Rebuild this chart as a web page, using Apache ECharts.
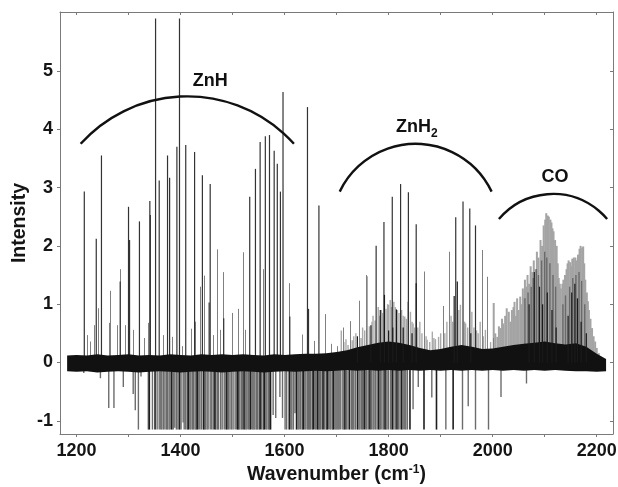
<!DOCTYPE html>
<html><head><meta charset="utf-8">
<script src="https://cdn.jsdelivr.net/npm/echarts@6/dist/echarts.min.js"></script>
<style>html,body{margin:0;padding:0;background:#fff}#c{width:618px;height:487px}</style>
</head><body><div id="c"></div>
<script>
// ---- axis ticks / labels ----
const xTickValues = [1200,1300,1400,1500,1600,1700,1800,1900,2000,2100,2200];
const xLabelValues = [1200,1400,1600,1800,2000,2200];
const yTickValues = [-1,0,1,2,3,4,5];

// ---- strong (dark) lines ----
const mainSticks = [[1215,2.93],[1238,2.12],[1248,3.55],[1284,1.39],[1300,2.67],[1302,2.1],[1321,2.42],[1341,2.77],[1342,2.53],[1352,5.9],[1359,3.12],[1375,3.55],[1379,3.17],[1393,3.70],[1398,5.9],[1410,3.73],[1427,3.61],[1442,3.21],[1455,1.03],[1457,3.06],[1483,0.76],[1533,2.84],[1544,3.32],[1553,3.78],[1563,3.88],[1571,3.90],[1580,3.63],[1586,3.41],[1592,2.93],[1597,4.64],[1610,0.79],[1644,4.38],[1646,0.92],[1666,2.69],[1776,2.0],[1791,2.41],[1807,2.84],[1823,3.06],[1838,2.92],[1853,2.37],[1929,2.49],[1943,2.76],[1956,2.64],[1967,2.35]];

// ---- medium grey lines ----
const greySticks = [[1220,0.47],[1226,0.36],[1233,0.64],[1242,0.93],[1262,0.68],[1264,1.23],[1277,0.64],[1283,1.6],[1293,0.64],[1309,0.56],[1330,0.42],[1337,0.68],[1366,0.47],[1384,0.44],[1402,0.28],[1421,0.58],[1428,0.7],[1437,1.30],[1446,1.49],[1463,0.47],[1470,1.94],[1476,0.56],[1481,1.55],[1499,0.85],[1510,0.92],[1521,1.89],[1523,0.56],[1559,1.6],[1608,1.36],[1634,0.48],[1656,0.37],[1677,0.83],[1689,0.32],[1700,0.28],[1713,0.6],[1725,0.71],[1743,1.06],[1757,1.5],[1868,1.56],[1904,0.97],[1916,1.9],[1979,1.93],[1990,1.47],[2001,0.42]];

// ---- light grey dense lines in the ZnH2 region ----
const lightSticks = [[1709,0.55],[1714,0.35],[1718,0.4],[1722,0.3],[1730,0.38],[1733,0.45],[1737,0.5],[1747,0.42],[1750,0.6],[1754,0.55],[1759,1.48],[1763,0.62],[1768,0.7],[1770,0.8],[1774,0.72],[1780,0.95],[1783,0.8],[1786,0.9],[1788,0.85],[1795,0.92],[1798,1.0],[1800,0.99],[1803,1.07],[1806,0.95],[1810,1.04],[1813,0.95],[1817,0.9],[1820,0.85],[1825,0.9],[1828,0.8],[1831,0.79],[1834,0.75],[1837,1.04],[1842,0.87],[1845,0.7],[1847,0.67],[1850,0.6],[1856,0.6],[1860,0.7],[1864,0.5],[1872,0.45],[1874,0.39],[1879,0.35],[1884,0.53],[1887,0.42],[1890,0.4],[1896,0.44],[1900,0.5],[1908,0.5],[1912,0.7],[1920,0.8],[1923,0.7],[1935,0.9],[1938,0.99],[1946,0.7],[1948,0.67],[1952,0.6],[1960,0.87],[1964,0.6],[1969,0.55],[1972,0.5],[1976,0.7],[1982,0.45],[1986,0.56],[1996,0.35]];

// ---- CO band lines ----
const coSticks = [[2002,1.02],[2005,0.5],[2009,0.44],[2012,0.62],[2015,0.59],[2018,0.75],[2020,0.67],[2024,0.8],[2027,0.93],[2031,0.87],[2034,0.7],[2037,0.9],[2040,0.95],[2042,1.04],[2045,0.8],[2047,1.1],[2050,0.9],[2053,1.13],[2056,1.0],[2058,1.27],[2060,1.1],[2062,1.42],[2065,1.3],[2067,1.5],[2070,1.35],[2073,1.65],[2076,1.55],[2079,1.75],[2082,1.6],[2085,1.9],[2088,1.8],[2092,2.1],[2095,2.0],[2098,2.35],[2101,2.45],[2103,2.56],[2106,2.52],[2108,2.5],[2111,2.45],[2113,2.4],[2115,2.3],[2117,2.25],[2120,2.1],[2123,2.0],[2125,1.7],[2127,1.45],[2129,1.35],[2131,1.27],[2134,1.35],[2136,1.42],[2139,1.5],[2142,1.6],[2144,1.7],[2146,1.75],[2149,1.72],[2151,1.65],[2153,1.78],[2156,1.8],[2159,1.8],[2162,1.75],[2164,1.85],[2167,1.95],[2169,2.0],[2172,1.97],[2174,1.99],[2176,1.7],[2178,1.42],[2181,1.2],[2183,1.05],[2185,0.9],[2188,0.75],[2191,0.59],[2194,0.45],[2197,0.36],[2200,0.25],[2204,0.16],[2208,0.1]];

// ---- darker grey lines inside the CO envelope ----
const coMid = [[2062,1.1],[2068,1.2],[2074,1.3],[2078,1.45],[2084,1.6],[2088,1.5],[2094,1.75],[2100,1.9],[2104,1.8],[2110,1.7],[2116,1.5],[2121,1.3],[2135,1.0],[2140,1.15],[2148,1.3],[2154,1.45],[2160,1.5],[2166,1.55],[2171,1.4],[2177,1.0]];

// ---- short black lines inside the ZnH2 / CO envelopes ----
const darkSticks = [[1740,0.45],[1766,0.64],[1784,0.9],[1792,1.16],[1800,0.55],[1808,0.6],[1815,0.91],[1828,0.6],[1845,0.5],[1853,1.36],[1926,1.14],[1932,1.39],[1958,0.5],[2070,1.0],[2080,1.55],[2090,1.3],[2096,1.0],[2105,1.2],[2114,0.9],[2122,0.6],[2145,0.8],[2152,1.2],[2158,1.35],[2163,1.1],[2170,0.7],[2180,0.5]];

// ---- negative lines ----
const negDark = [[1340,-1.15],[1351,-1.15],[1398,-1.15],[1415,-1.15],[1444,-1.15],[1466,-1.15],[1489,-1.15],[1510,-1.15],[1534,-1.15],[1553,-1.15],[1573,-1.15],[1609,-1.15],[1636,-1.15],[1655,-1.15],[1674,-1.15],[1694,-1.15],[1716,-1.15],[1740,-1.15],[1764,-1.15],[1793,-1.15],[1816,-1.15],[1841,-1.15],[1868,-1.15],[1892,-1.15],[1924,-1.15],[1383,-1.15],[1432,-1.15],[1522,-1.15],[1561,-1.15],[1623,-1.15],[1663,-1.15],[1682,-1.15],[1725,-1.15],[1753,-1.15],[1781,-1.15],[1807,-1.15],[1825,-1.15]];
const negGrey = [[1319,-1.15],[1338,-1.15],[1359,-1.15],[1364,-1.15],[1370,-1.15],[1375,-1.15],[1380,-1.15],[1386,-1.15],[1389,-1.12],[1410,-1.15],[1420,-1.15],[1425,-1.15],[1430,-1.15],[1434,-1.15],[1437,-1.15],[1448,-1.15],[1453,-1.15],[1457,-1.15],[1463,-1.15],[1473,-1.15],[1477,-1.15],[1484,-1.15],[1495,-1.15],[1498,-1.15],[1505,-1.15],[1514,-1.15],[1519,-1.15],[1524,-1.15],[1528,-1.15],[1539,-1.15],[1543,-1.15],[1548,-1.15],[1559,-1.15],[1564,-1.15],[1569,-1.15],[1601,-1.15],[1614,-1.15],[1626,-1.15],[1631,-1.15],[1641,-1.15],[1646,-1.15],[1650,-1.15],[1660,-1.15],[1665,-1.15],[1669,-1.15],[1680,-1.15],[1684,-1.15],[1689,-1.15],[1699,-1.15],[1703,-1.15],[1705,-1.15],[1712,-1.15],[1722,-1.15],[1729,-1.15],[1733,-1.15],[1745,-1.15],[1750,-1.15],[1758,-1.15],[1772,-1.15],[1778,-1.15],[1787,-1.15],[1797,-1.15],[1804,-1.15],[1810,-1.15],[1822,-1.15],[1828,-1.15],[1833,-1.15],[1910,-1.15],[1942,-1.15],[1967,-1.15],[1992,-1.15],
[1346,-1.15],[1355,-1.15],[1362,-1.15],[1367,-1.15],[1373,-1.15],[1378,-1.15],[1392,-1.15],[1395,-1.15],[1401,-1.15],[1407,-1.15],[1413,-1.15],[1418,-1.15],[1423,-1.15],[1428,-1.15],[1440,-1.15],[1446,-1.15],[1451,-1.15],[1460,-1.15],[1468,-1.15],[1471,-1.15],[1480,-1.15],[1487,-1.15],[1492,-1.15],[1501,-1.15],[1508,-1.15],[1512,-1.15],[1517,-1.15],[1526,-1.15],[1531,-1.15],[1537,-1.15],[1541,-1.15],[1546,-1.15],[1551,-1.15],[1556,-1.15],[1566,-1.15],[1571,-1.15],[1604,-1.15],[1612,-1.15],[1617,-1.15],[1628,-1.15],[1634,-1.15],[1639,-1.15],[1644,-1.15],[1648,-1.15],[1653,-1.15],[1658,-1.15],[1667,-1.15],[1672,-1.15],[1677,-1.15],[1687,-1.15],[1692,-1.15],[1697,-1.15],[1701,-1.15],[1708,-1.15],[1714,-1.15],[1719,-1.15],[1731,-1.15],[1736,-1.15],[1743,-1.15],[1748,-1.15],[1756,-1.15],[1761,-1.15],[1767,-1.15],[1770,-1.15],[1775,-1.15],[1784,-1.15],[1790,-1.15],[1795,-1.15],[1800,-1.15],[1813,-1.15],[1819,-1.15],[1831,-1.15],[1836,-1.15],
[1214,-0.18],[1246,-0.27],[1262,-0.78],[1272,-0.78],[1290,-0.42],[1309,-0.54],[1313,-0.82],[1324,-0.24],[1405,-1.03],[1578,-0.9],[1583,-0.95],[1591,-0.59],[1596,-0.95],[1620,-0.87],[1847,-0.8],[1857,-0.42],[1883,-0.6],[1953,-0.75],[2016,-0.59],[2065,-0.36]];

// ---- dense noise band around zero (envelope) ----
const noiseX = [1182,1200,1220,1240,1260,1280,1300,1320,1340,1360,1380,1400,1420,1440,1460,1480,1500,1520,1540,1560,1580,1600,1620,1640,1660,1680,1700,1720,1740,1760,1780,1800,1820,1840,1860,1880,1900,1920,1940,1960,1980,2000,2020,2040,2060,2080,2100,2120,2140,2160,2180,2200,2218];
const noiseTop = [0.12,0.13,0.12,0.14,0.12,0.13,0.14,0.12,0.13,0.12,0.14,0.13,0.12,0.14,0.13,0.14,0.13,0.14,0.13,0.12,0.14,0.13,0.14,0.15,0.15,0.16,0.18,0.21,0.26,0.30,0.34,0.36,0.34,0.30,0.25,0.21,0.23,0.27,0.30,0.27,0.23,0.24,0.27,0.30,0.32,0.34,0.36,0.33,0.31,0.33,0.27,0.15,0.06];
const noiseBottom = [-0.15,-0.16,-0.15,-0.17,-0.16,-0.15,-0.16,-0.17,-0.16,-0.15,-0.16,-0.17,-0.16,-0.15,-0.16,-0.17,-0.16,-0.15,-0.16,-0.17,-0.16,-0.15,-0.16,-0.15,-0.14,-0.15,-0.14,-0.13,-0.14,-0.13,-0.14,-0.13,-0.14,-0.13,-0.14,-0.13,-0.14,-0.13,-0.14,-0.13,-0.14,-0.13,-0.14,-0.13,-0.14,-0.13,-0.14,-0.13,-0.14,-0.15,-0.15,-0.16,-0.15];

// ---- band annotations ----
const bandNames = ['ZnH','ZnH{s|2}','CO'];
const bandStart = [[1208,3.75],[1706,2.93],[2012,2.46]];
const bandPeak  = [[1399,4.56],[1851,3.75],[2117,2.89]];
const bandEnd   = [[1618,3.75],[1998,2.93],[2220,2.46]];
const bandLabel = [[1457,4.83],[1854,4.03],[2120,3.18]];

const FONT = '"Liberation Sans", Arial, Helvetica, sans-serif';
const AX = '#7a7a7a';
const TXT = '#151515';

function stickSeries(data, color, z, width) {
  const w = width || 1;
  return {
    type: 'custom', coordinateSystem: 'cartesian2d', clip: true, silent: true, z: z,
    data: data,
    renderItem: function (params, api) {
      const x = api.value(0), y = api.value(1);
      const p0 = api.coord([x, 0]), p1 = api.coord([x, y]);
      const px = w === 1 ? Math.round(p0[0]) + 0.5 : p0[0];
      return { type: 'line', shape: { x1: px, y1: p0[1], x2: px, y2: p1[1] }, style: { stroke: color, lineWidth: w } };
    }
  };
}

function circleThrough(a, b, c) {
  const d = 2 * (a[0] * (b[1] - c[1]) + b[0] * (c[1] - a[1]) + c[0] * (a[1] - b[1]));
  const A = a[0]*a[0] + a[1]*a[1], B = b[0]*b[0] + b[1]*b[1], C = c[0]*c[0] + c[1]*c[1];
  const ux = (A * (b[1] - c[1]) + B * (c[1] - a[1]) + C * (a[1] - b[1])) / d;
  const uy = (A * (c[0] - b[0]) + B * (a[0] - c[0]) + C * (b[0] - a[0])) / d;
  return [ux, uy, Math.hypot(a[0] - ux, a[1] - uy)];
}

const chart = echarts.init(document.getElementById('c'), null, { renderer: 'canvas' });
const xBase = { type: 'value', min: 1168.3, max: 2231.3, splitLine: { show: false } };
const yBase = { type: 'value', min: -1.226, max: 6.01, splitLine: { show: false } };
const plain = function (v) { return String(v); };

chart.setOption({
  animation: false,
  backgroundColor: '#fff',
  grid: { left: 60, right: 5, top: 12, bottom: 53, containLabel: false, outerBoundsMode: 'none' },
  xAxis: [
    Object.assign({}, xBase, {
      position: 'bottom',
      axisLine: { show: true, onZero: false, lineStyle: { color: AX, width: 1 } },
      axisTick: { show: true, inside: false, length: 3, customValues: xTickValues, lineStyle: { color: AX } },
      axisLabel: { customValues: xLabelValues, formatter: plain, margin: 8, color: TXT, fontSize: 18, fontWeight: 'bold', fontFamily: FONT },
      name: 'Wavenumber (cm{sup|-1})', nameLocation: 'middle', nameGap: 30, nameMoveOverlap: false,
      nameTextStyle: { color: TXT, fontSize: 19.5, fontWeight: 'bold', fontFamily: FONT, lineHeight: 22,
        rich: { sup: { fontSize: 12, fontWeight: 'bold', fontFamily: FONT, color: TXT, verticalAlign: 'top', lineHeight: 12 } } }
    }),
    Object.assign({}, xBase, {
      position: 'top',
      axisLine: { show: true, onZero: false, lineStyle: { color: AX, width: 1 } },
      axisTick: { show: true, inside: true, length: 3, customValues: xTickValues, lineStyle: { color: AX } },
      axisLabel: { show: false }
    })
  ],
  yAxis: [
    Object.assign({}, yBase, {
      position: 'left',
      axisLine: { show: true, onZero: false, lineStyle: { color: AX, width: 1 } },
      axisTick: { show: true, inside: false, length: 3, customValues: yTickValues, lineStyle: { color: AX } },
      axisLabel: { customValues: yTickValues, formatter: plain, margin: 7, color: TXT, fontSize: 18, fontWeight: 'bold', fontFamily: FONT },
      name: 'Intensity', nameLocation: 'middle', nameGap: 30, nameMoveOverlap: false,
      nameTextStyle: { color: TXT, fontSize: 19.5, fontWeight: 'bold', fontFamily: FONT }
    }),
    Object.assign({}, yBase, {
      position: 'right',
      axisLine: { show: true, onZero: false, lineStyle: { color: AX, width: 1 } },
      axisTick: { show: true, inside: true, length: 3, customValues: yTickValues, lineStyle: { color: AX } },
      axisLabel: { show: false }
    })
  ],
  series: [
    stickSeries(coSticks, '#a4a4a4', 2, 2),
    stickSeries(lightSticks, '#a9a9a9', 2, 1.4),
    stickSeries(greySticks, '#808080', 3),
    stickSeries(coMid, '#6a6a6a', 3, 1.4),
    stickSeries(negGrey, '#6c6c6c', 3, 1.4),
    stickSeries(mainSticks, '#333333', 4, 1.2),
    stickSeries(negDark, '#1e1e1e', 4, 1.6),
    {
      type: 'custom', coordinateSystem: 'cartesian2d', clip: true, silent: true, z: 5,
      data: [[1500, 0]],
      renderItem: function (params, api) {
        const pts = [];
        for (let i = 0; i < noiseX.length; i++) pts.push(api.coord([noiseX[i], noiseTop[i]]));
        for (let i = noiseX.length - 1; i >= 0; i--) pts.push(api.coord([noiseX[i], noiseBottom[i]]));
        return { type: 'polygon', shape: { points: pts }, style: { fill: '#111111' } };
      }
    },
    stickSeries(darkSticks, '#1a1a1a', 6, 1.2),
    {
      type: 'custom', coordinateSystem: 'cartesian2d', clip: false, silent: true, z: 8,
      data: bandNames.map(function (n, i) { return [bandLabel[i][0], bandLabel[i][1], i]; }),
      renderItem: function (params, api) {
        const i = api.value(2);
        const a = api.coord(bandStart[i]), b = api.coord(bandPeak[i]), c = api.coord(bandEnd[i]);
        const circ = circleThrough(a, b, c);
        const sa = Math.atan2(a[1] - circ[1], a[0] - circ[0]);
        const ea = Math.atan2(c[1] - circ[1], c[0] - circ[0]);
        const lp = api.coord(bandLabel[i]);
        return {
          type: 'group',
          children: [
            { type: 'arc', shape: { cx: circ[0], cy: circ[1], r: circ[2], startAngle: sa, endAngle: ea, clockwise: true },
              style: { stroke: '#111111', lineWidth: 2.4, fill: null } },
            { type: 'text', x: lp[0], y: lp[1],
              style: { text: bandNames[i], fill: '#111111', fontSize: 18, fontWeight: 'bold', fontFamily: FONT,
                align: 'center', verticalAlign: 'middle', lineHeight: 24,
                rich: { s: { fontSize: 12, fontWeight: 'bold', fontFamily: FONT, fill: '#111111', lineHeight: 12, verticalAlign: 'bottom' } } } }
          ]
        };
      }
    }
  ]
});
</script>
</body></html>
